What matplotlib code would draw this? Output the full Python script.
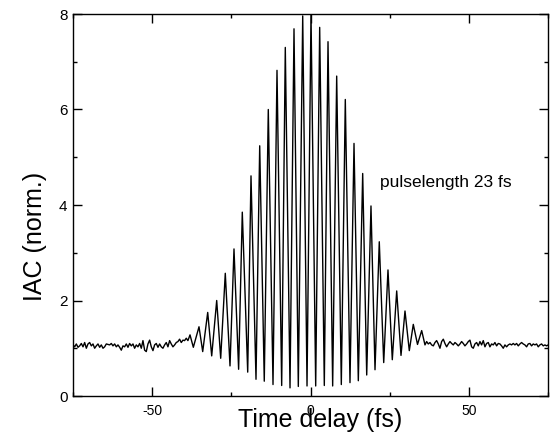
import matplotlib
matplotlib.use("Agg")
import matplotlib.pyplot as plt
from matplotlib import font_manager
from matplotlib.ticker import MultipleLocator

plt.rcParams["axes.unicode_minus"] = False

# ---- data (time delay in fs, IAC normalized) ----
left_noise_t = [-75.00, -74.47, -73.95, -73.42, -72.90, -72.37, -71.84, -71.32, -70.79, -70.27,
                -69.74, -69.21, -68.69, -68.16, -67.64, -67.11, -66.58, -66.06, -65.53, -65.01,
                -64.48, -63.95, -63.43, -62.90, -62.38, -61.85, -61.32, -60.80, -60.27, -59.75,
                -59.22, -58.69, -58.17, -57.64, -57.12, -56.59, -56.06, -55.54, -55.01, -54.49,
                -53.96, -53.43, -52.91, -52.38, -51.86, -51.33, -50.80, -50.28, -49.75, -49.23,
                -48.70, -48.17, -47.65, -47.12, -46.60, -46.07, -45.54, -45.02, -44.49, -43.97,
                -43.44, -42.91, -42.39, -41.86, -41.34, -40.81, -40.28, -39.76, -39.23, -38.71]
left_noise_v = [1.07, 1.03, 1.09, 1.02, 1.05, 1.10, 1.03, 1.12, 1.00, 1.09,
                1.12, 1.05, 1.09, 1.00, 1.05, 1.09, 1.02, 1.07, 1.00, 1.03,
                1.09, 1.08, 1.07, 1.10, 1.05, 1.09, 1.03, 1.07, 1.02, 0.96,
                1.05, 1.03, 1.09, 1.02, 1.10, 1.05, 1.09, 1.00, 1.07, 1.03,
                1.10, 1.00, 1.16, 0.96, 0.93, 1.09, 1.17, 1.03, 0.95, 1.07,
                1.10, 1.02, 1.09, 1.03, 1.00, 1.07, 1.12, 1.03, 1.16, 1.09,
                1.03, 1.07, 1.12, 1.14, 1.19, 1.12, 1.17, 1.16, 1.21, 1.16]

fringe_t = [-38.05, -37.00, -35.21, -34.04, -32.46, -31.20, -29.62, -28.36, -26.91, -25.42,
            -24.16, -22.70, -21.54, -19.83, -18.79, -17.21, -16.04, -14.60, -13.33, -11.84,
            -10.58, -9.10, -7.96, -6.47, -5.21, -3.85, -2.46, -1.10, 0.16, 1.64,
            2.90, 4.36, 5.53, 7.00, 8.27, 9.73, 10.99, 12.47, 13.74, 15.10,
            16.48, 17.75, 19.10, 20.37, 21.72, 23.12, 24.47, 25.83, 27.22, 28.58,
            29.84, 31.20, 32.46, 33.79, 35.11]
fringe_v = [1.28, 1.02, 1.45, 0.93, 1.75, 0.84, 2.00, 0.79, 2.57, 0.63,
            3.08, 0.56, 3.85, 0.50, 4.61, 0.35, 5.24, 0.31, 6.00, 0.24,
            6.82, 0.22, 7.30, 0.17, 7.69, 0.20, 7.96, 0.21, 8.00, 0.21,
            7.72, 0.22, 7.42, 0.21, 6.70, 0.24, 6.21, 0.28, 5.29, 0.32,
            4.66, 0.44, 3.98, 0.55, 3.23, 0.70, 2.64, 0.76, 2.20, 0.85,
            1.78, 0.95, 1.50, 1.08, 1.37]

right_noise_t = [36.15, 36.68, 37.20, 37.73, 38.25, 38.78, 39.31, 39.83, 40.36, 40.88,
                 41.41, 41.94, 42.46, 42.99, 43.51, 44.04, 44.57, 45.09, 45.62, 46.14,
                 46.67, 47.20, 47.72, 48.25, 48.77, 49.30, 49.83, 50.35, 50.88, 51.40,
                 51.93, 52.46, 52.98, 53.51, 54.03, 54.56, 55.09, 55.61, 56.14, 56.66,
                 57.19, 57.72, 58.24, 58.77, 59.29, 59.82, 60.35, 60.87, 61.40, 61.92,
                 62.45, 62.98, 63.50, 64.03, 64.55, 65.08, 65.61, 66.13, 66.66, 67.18,
                 67.71, 68.24, 68.76, 69.29, 69.81, 70.34, 70.87, 71.39, 71.92, 72.44,
                 72.97, 73.50, 74.02, 74.55, 75.07]
right_noise_v = [1.07, 1.14, 1.09, 1.12, 1.07, 1.05, 1.12, 1.16, 1.09, 1.00,
                 1.14, 1.19, 1.10, 1.03, 1.09, 1.14, 1.10, 1.07, 1.12, 1.09,
                 1.05, 1.09, 1.14, 1.10, 1.05, 1.09, 1.14, 1.17, 1.03, 1.00,
                 1.09, 1.12, 1.05, 1.14, 1.07, 1.16, 1.03, 1.10, 1.12, 1.03,
                 1.09, 1.07, 1.12, 1.05, 1.10, 1.09, 1.05, 1.00, 1.07, 1.03,
                 1.07, 1.09, 1.07, 1.10, 1.07, 1.10, 1.05, 1.09, 1.12, 1.09,
                 1.07, 1.03, 1.09, 1.10, 1.05, 1.09, 1.07, 1.09, 1.03, 1.07,
                 1.09, 1.05, 1.07, 1.05, 1.07]

x_ticks = [-50, 0, 50]
y_ticks = [0, 2, 4, 6, 8]
annotation = "pulselength 23 fs"
x_label = "Time delay (fs)"
y_label = "IAC (norm.)"

# ---- fonts ----
avail = {f.name for f in font_manager.fontManager.ttflist}
narrow = "Liberation Sans Narrow" if "Liberation Sans Narrow" in avail else "Liberation Sans"
regular = "Liberation Sans" if "Liberation Sans" in avail else "DejaVu Sans"

t = left_noise_t + fringe_t + right_noise_t
v = left_noise_v + fringe_v + right_noise_v

fig = plt.figure(figsize=(5.53, 4.36), dpi=100)
ax = fig.add_axes([73 / 553, 40 / 436, 475 / 553, 382 / 436])
ax.plot(t, v, color="black", lw=1.0)

ax.set_xlim(-75, 75)
ax.set_ylim(0, 8)
ax.set_xticks(x_ticks)
ax.set_yticks(y_ticks)
ax.xaxis.set_minor_locator(MultipleLocator(25))
ax.yaxis.set_minor_locator(MultipleLocator(1))
ax.tick_params(which="both", direction="in", top=True, right=True, width=1, colors="black")
ax.tick_params(which="major", length=6.5)
ax.tick_params(which="minor", length=3)
ax.tick_params(axis="x", which="major", pad=6)
ax.tick_params(axis="y", which="major", pad=4)
for lab in ax.get_xticklabels():
    lab.set_fontfamily(narrow)
    lab.set_fontsize(10)
for lab in ax.get_yticklabels():
    lab.set_fontfamily(narrow)
    lab.set_fontsize(11)
for s in ax.spines.values():
    s.set_linewidth(1.0)

ax.text(21.9, 4.38, annotation, fontfamily=narrow, fontsize=12.5, va="baseline", ha="left")

fig.text(320 / 553, 1 - 420 / 436, x_label, fontfamily=regular, fontsize=18,
         ha="center", va="center")
fig.text(35 / 553, 1 - 236 / 436, y_label, fontfamily=regular, fontsize=18,
         ha="center", va="center", rotation=90)

fig.savefig("out.png", dpi=100)
